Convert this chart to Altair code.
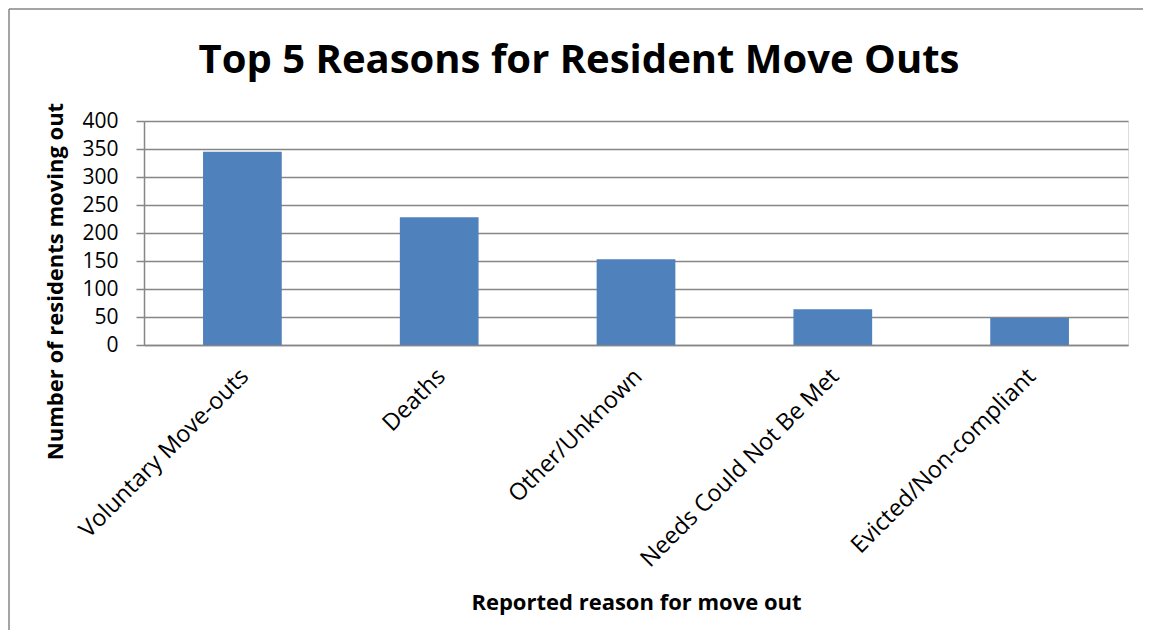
import altair as alt
import pandas as pd

reasons = ["Voluntary Move-outs", "Deaths", "Other/Unknown",
           "Needs Could Not Be Met", "Evicted/Non-compliant"]
counts = [345, 228, 153, 64, 48]
y_ticks = [0, 50, 100, 150, 200, 250, 300, 350, 400]

df = pd.DataFrame({"reason": reasons, "count": counts})

FONT = "Open Sans"
GRID = "#868686"
BAR = "#4F81BD"

bars = alt.Chart(df).mark_bar(color=BAR).encode(
    x=alt.X(
        "reason:N", sort=reasons, title="Reported reason for move out",
        scale=alt.Scale(paddingInner=0.6, paddingOuter=0.3),
        axis=alt.Axis(
            labelAngle=-45, labelAlign="right", labelBaseline="top",
            labelFontSize=23.5, labelFont=FONT, labelColor="black",
            labelPadding=19, labelOffset=-6, labelLimit=0, ticks=False, tickSize=0,
            domainColor=GRID, domainWidth=1.5,
            titleFont=FONT, titleFontSize=22, titleFontWeight="bold",
            titleColor="black", titleY=257, titleBaseline="middle",
        ),
    ),
    y=alt.Y(
        "count:Q", title="Number of  residents moving out",
        scale=alt.Scale(domain=[0, 400], nice=False),
        axis=alt.Axis(
            values=y_ticks, tickSize=8, tickColor=GRID, tickWidth=1.5,
            gridColor=GRID, gridWidth=1.5, gridOpacity=1,
            domainColor=GRID, domainWidth=1.5,
            labelFont=FONT, labelFontSize=21, labelColor="black", labelPadding=18,
            titleFont=FONT, titleFontSize=22, titleFontWeight="bold",
            titleColor="black", titleX=-89, titleY=160,
            titleAlign="center", titleBaseline="middle", titleAngle=-90,
        ),
    ),
)

frame_df = pd.DataFrame({"k": [0]})
frame_left = alt.Chart(frame_df).mark_rule(color=GRID, strokeWidth=1.5).encode(
    x=alt.value(-135), y=alt.value(-112), y2=alt.value(520)
)
frame_top = alt.Chart(frame_df).mark_rule(color=GRID, strokeWidth=1.5).encode(
    x=alt.value(-135), x2=alt.value(1000), y=alt.value(-112)
)

chart = alt.layer(frame_left, frame_top, bars).properties(
    width=984, height=224,
    title=alt.TitleParams(
        "Top 5 Reasons for Resident Move Outs", font=FONT, fontSize=40,
        fontWeight="bold", color="black", anchor="middle", frame="group",
        baseline="alphabetic", dx=-57, dy=105, offset=0,
    ),
    autosize=alt.AutoSizeParams(type="none"),
    padding={"left": 136, "top": 113, "right": 15, "bottom": 285},
).configure_view(stroke=None).configure(background="white")

chart.save("out.html", embed_options={"renderer": "svg", "actions": False})
